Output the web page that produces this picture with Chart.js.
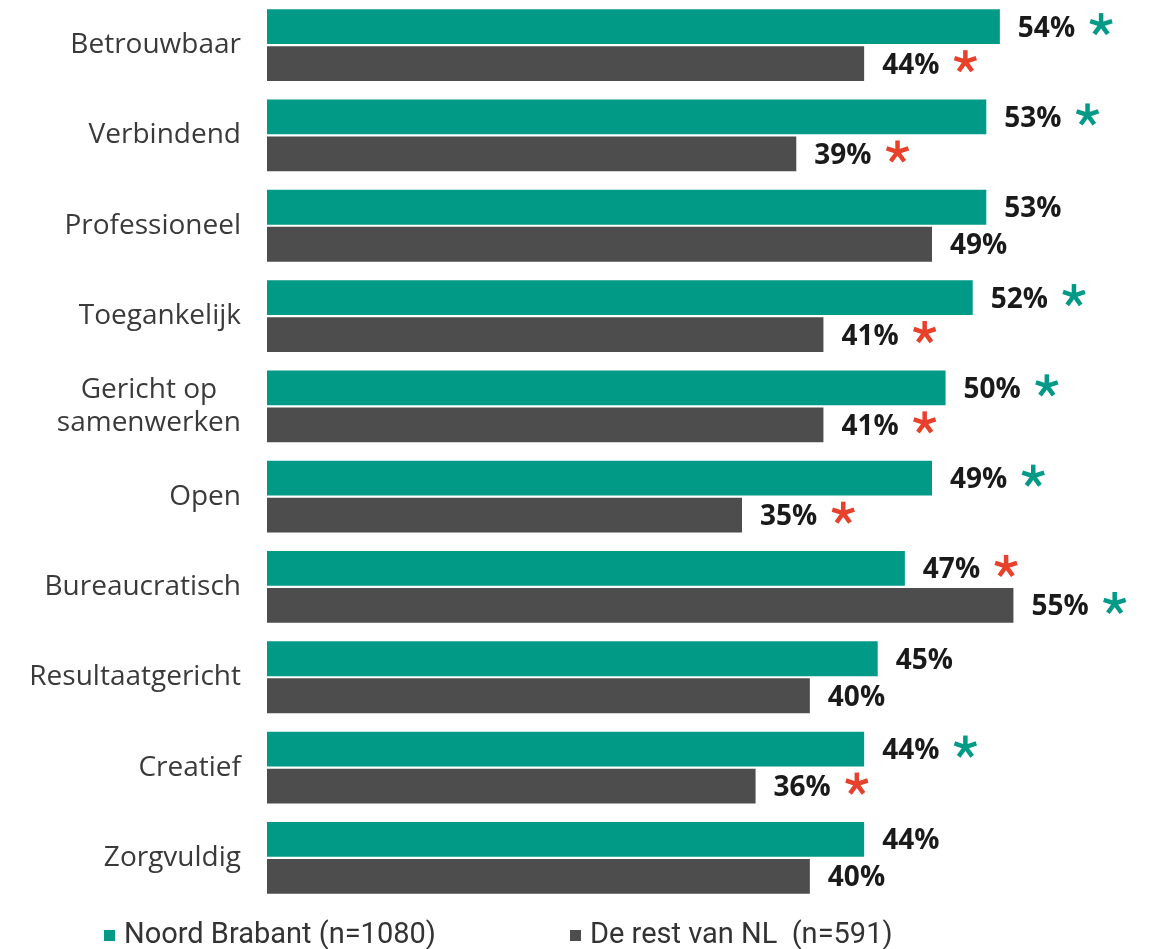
<!DOCTYPE html>
<html>
<head>
<meta charset="utf-8">
<script src="https://cdn.jsdelivr.net/npm/chart.js@4"></script>
<style>
  html, body { margin: 0; padding: 0; background: #fff; }
  .wrap { position: relative; width: 1160px; height: 949px; }
  .legend { position: absolute; top: 916px; left: 0; width: 1160px; height: 33px;
    font-family: 'Liberation Sans Narrow', 'Roboto', sans-serif; font-size: 29px; color: #333; }
  .legend span { position: absolute; white-space: pre; }
  .legend i { position: absolute; width: 11px; height: 11px; top: 14px; }
</style>
</head>
<body>
<div class="wrap">
  <canvas id="bar-chart" width="1160" height="949"></canvas>
  <div class="legend" id="legend"></div>
</div>
<script>
// categories and values (percent)
const categories = ['Betrouwbaar', 'Verbindend', 'Professioneel', 'Toegankelijk', ['Gericht op', 'samenwerken'],
  'Open', 'Bureaucratisch', 'Resultaatgericht', 'Creatief', 'Zorgvuldig'];
const noordBrabant = [54, 53, 53, 52, 50, 49, 47, 45, 44, 44];
const restNL = [44, 39, 49, 41, 41, 35, 55, 40, 36, 40];
// significance marks: 'g' = green asterisk, 'r' = red asterisk
const noordBrabantSig = ['g', 'g', null, 'g', 'g', 'g', 'r', null, 'g', null];
const restNLSig = ['r', 'r', null, 'r', 'r', 'r', 'g', null, 'r', null];
const seriesNames = ['Noord Brabant (n=1080)', 'De rest van NL  (n=591)'];

const TEAL = '#009a86';
const GREY = '#4d4d4d';
const RED = '#e8412b';

// y labels, right aligned block, lines centred
const yLabelPlugin = {
  id: 'yLabels',
  afterDraw(chart) {
    const ctx = chart.ctx;
    const y = chart.scales.y;
    ctx.save();
    ctx.font = '28px "Open Sans", sans-serif';
    ctx.fillStyle = '#3a3a3a';
    ctx.textBaseline = 'middle';
    ctx.textAlign = 'center';
    categories.forEach((c, i) => {
      const lines = Array.isArray(c) ? c : [c];
      const w = Math.max(...lines.map(l => ctx.measureText(l).width));
      const cx = 241 - w / 2;
      const yc = y.getPixelForValue(i);
      const lh = 33;
      lines.forEach((l, k) => {
        ctx.fillText(l, cx, yc + (k - (lines.length - 1) / 2) * lh);
      });
    });
    ctx.restore();
  }
};

function drawStar(ctx, x, y, r, color) {
  ctx.save();
  ctx.strokeStyle = color;
  ctx.lineWidth = 4.5;
  ctx.lineCap = 'butt';
  for (let k = 0; k < 5; k++) {
    const a = -Math.PI / 2 + k * 2 * Math.PI / 5;
    ctx.beginPath();
    ctx.moveTo(x, y);
    ctx.lineTo(x + r * Math.cos(a), y + r * Math.sin(a));
    ctx.stroke();
  }
  ctx.restore();
}

// value labels + asterisks
const valuePlugin = {
  id: 'values',
  afterDatasetsDraw(chart) {
    const ctx = chart.ctx;
    const sigs = [noordBrabantSig, restNLSig];
    ctx.save();
    ctx.font = 'bold 28px "Open Sans", sans-serif';
    ctx.fillStyle = '#1a1a1a';
    ctx.textBaseline = 'middle';
    ctx.textAlign = 'left';
    chart.data.datasets.forEach((ds, di) => {
      chart.getDatasetMeta(di).data.forEach((bar, i) => {
        const txt = ds.data[i] + '%';
        const x = bar.x + 18;
        ctx.fillText(txt, x, bar.y + 2);
        const s = sigs[di][i];
        if (s) {
          const w = ctx.measureText(txt).width;
          drawStar(ctx, x + w + 26, bar.y - 2, 11.5, s === 'g' ? TEAL : RED);
        }
      });
    });
    ctx.restore();
  }
};

const ctx1 = document.getElementById('bar-chart').getContext('2d');
const barChart = new Chart(ctx1, {
  type: 'bar',
  data: {
    labels: categories,
    datasets: [{
      label: seriesNames[0],
      data: noordBrabant,
      backgroundColor: TEAL
    }, {
      label: seriesNames[1],
      data: restNL,
      backgroundColor: GREY
    }]
  },
  options: {
    indexAxis: 'y',
    responsive: false,
    animation: false,
    categoryPercentage: 0.82,
    barPercentage: 0.94,
    layout: { padding: { top: 0, bottom: 46, left: 0, right: 0 } },
    scales: {
      x: { display: false, min: 0, max: 65.8 },
      y: {
        grid: { display: false },
        border: { display: false },
        ticks: { display: false },
        afterFit(scale) { scale.width = 267; }
      }
    },
    plugins: {
      legend: { display: false },
      tooltip: { enabled: false }
    }
  },
  plugins: [yLabelPlugin, valuePlugin]
});

// legend
const legend = document.getElementById('legend');
const legendPos = [104, 570];
seriesNames.forEach((n, i) => {
  const box = document.createElement('i');
  box.style.left = legendPos[i] + 'px';
  box.style.background = i === 0 ? TEAL : GREY;
  legend.appendChild(box);
  const sp = document.createElement('span');
  sp.style.left = (legendPos[i] + 20) + 'px';
  sp.textContent = n;
  legend.appendChild(sp);
});
</script>
</body>
</html>
